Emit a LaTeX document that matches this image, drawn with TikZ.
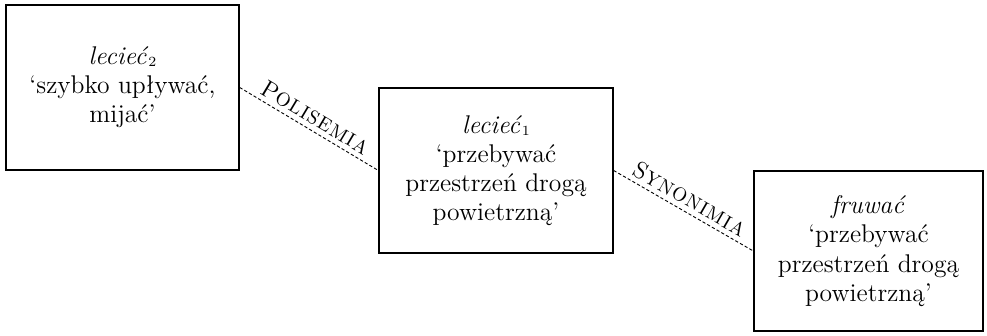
\documentclass[tikz,border=0pt]{standalone}
\usepackage{fontspec}
\setmainfont{Latin Modern Roman}
\newcommand{\fakesc}[2]{#1{\fontsize{9.6}{11}\selectfont #2}}
\newcommand{\smallidx}[1]{{\fontsize{7}{7}\selectfont\raisebox{-0.35ex}{#1}}}
\begin{document}
\begin{tikzpicture}[x=0.5pt,y=-0.5pt,
  box/.style={draw,line width=0.7pt,rectangle,align=center,inner sep=0pt,
    font=\fontsize{12.8}{14.6}\selectfont},
  rel/.style={line width=0.45pt,dash pattern=on 1.6pt off 1.1pt},
  lab/.style={font=\fontsize{12}{14}\selectfont,sloped,midway,above=2.2pt,inner sep=0pt}]
\useasboundingbox (0,0) rectangle (987,336);
\node[box,minimum width=116.5pt,minimum height=82.5pt] (a) at (122.5,87.5)
  {\textit{lecieć}\smallidx{2}\\‘szybko upływać,\\mijać’};
\node[box,minimum width=117pt,minimum height=82.5pt] (b) at (496,170.5)
  {\textit{lecieć}\smallidx{1}\\‘przebywać\\przestrzeń drogą\\powietrzną’};
\node[box,minimum width=114.5pt,minimum height=80pt] (c) at (868.5,251)
  {\textit{fruwać}\\‘przebywać\\przestrzeń drogą\\powietrzną’};
\draw[rel] (a.east) -- node[lab]{\fakesc{P}{O\kern0.6pt L\kern0.6pt I\kern0.6pt S\kern0.6pt E\kern0.6pt M\kern0.6pt I\kern0.6pt A}} (b.west);
\draw[rel] (b.east) -- node[lab]{\fakesc{S}{Y\kern0.6pt N\kern0.6pt O\kern0.6pt N\kern0.6pt I\kern0.6pt M\kern0.6pt I\kern0.6pt A}} (c.west);
\end{tikzpicture}
\end{document}
